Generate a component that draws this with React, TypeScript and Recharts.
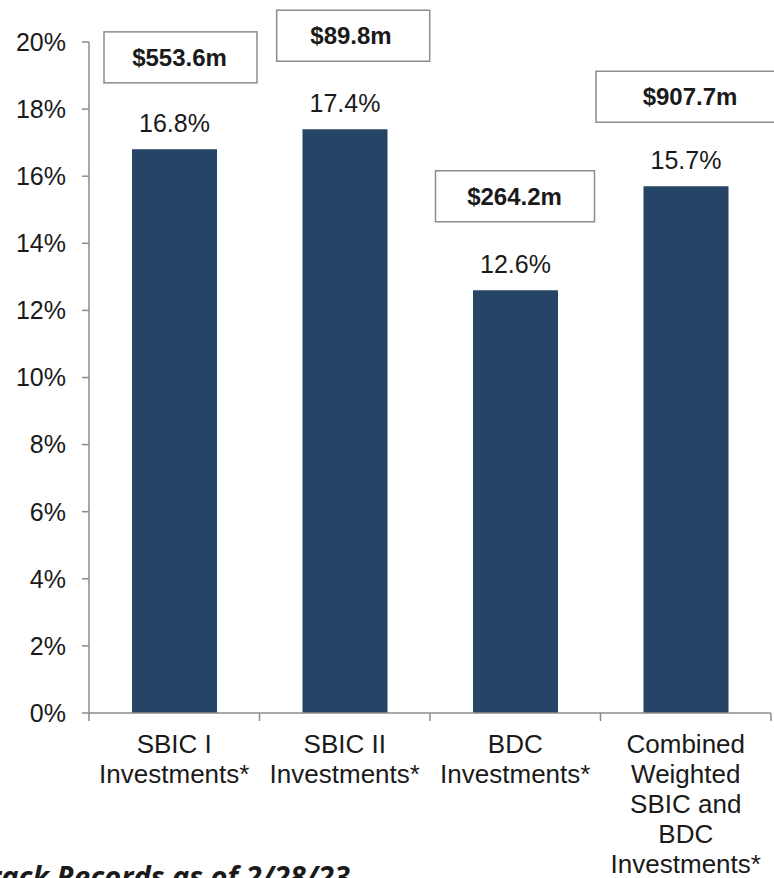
import { BarChart, Bar, XAxis, YAxis, LabelList } from 'recharts'

const categories = [
  'SBIC I\nInvestments*',
  'SBIC II\nInvestments*',
  'BDC\nInvestments*',
  'Combined\nWeighted\nSBIC and\nBDC\nInvestments*',
]
const returns = [16.8, 17.4, 12.6, 15.7]
const amounts = ['$553.6m', '$89.8m', '$264.2m', '$907.7m']
const yTicks = [0, 2, 4, 6, 8, 10, 12, 14, 16, 18, 20]

const data = categories.map((name, i) => ({ name, value: returns[i], amount: amounts[i] }))

const W = 774
const H = 878
const MARGIN = { top: 42, right: 3, bottom: 5, left: 0 }
const Y_WIDTH = 89
const BAND = (W - Y_WIDTH - MARGIN.right) / categories.length

const AXIS = '#8c8c8c'
const BAR = '#264466'
const TEXT = '#1a1a1a'
const FONT = '"Liberation Sans", Arial, sans-serif'

// amount box layout, relative to bar centre / bar top
const BOX_LEFT = [-70.5, -68.3, -80, -90]
const BOX_W = [153, 153, 159, 190]
const TEXT_DX = [5, 6, -1, 4]
const BOX_TOP = [-117.5, -119, -119.5, -115]
const BOX_H = 51

function AmountBox(props: any) {
  const { x, y, width, index, value } = props
  const cx = x + width / 2
  const top = y + BOX_TOP[index]
  return (
    <g>
      <rect
        x={cx + BOX_LEFT[index]}
        y={top}
        width={BOX_W[index]}
        height={BOX_H}
        fill="#fff"
        stroke={AXIS}
        strokeWidth={1.5}
      />
      <text
        x={cx + TEXT_DX[index]}
        y={top + BOX_H / 2 + 8.5}
        textAnchor="middle"
        fontFamily={FONT}
        fontWeight="bold"
        fontSize={24}
        fill={TEXT}
      >
        {value}
      </text>
    </g>
  )
}

function CategoryTick(props: any) {
  const { x, y, payload, index } = props
  const lines = String(payload.value).split('\n')
  return (
    <g transform={`translate(${x},${y})`}>
      <line x1={-BAND / 2} x2={-BAND / 2} y1={0} y2={8} stroke={AXIS} strokeWidth={1.5} />
      {index === categories.length - 1 && (
        <line x1={BAND / 2} x2={BAND / 2} y1={0} y2={8} stroke={AXIS} strokeWidth={1.5} />
      )}
      <text textAnchor="middle" fontFamily={FONT} fontSize={26} fill={TEXT}>
        {lines.map((line, i) => (
          <tspan key={i} x={0} y={40 + i * 30}>
            {line}
          </tspan>
        ))}
      </text>
    </g>
  )
}

export default function App() {
  return (
    <div
      style={{
        position: 'absolute',
        left: 0,
        top: 0,
        width: W,
        height: H,
        overflow: 'hidden',
        background: '#fff',
      }}
    >
      <BarChart width={W} height={H} data={data} margin={MARGIN}>
        <XAxis
          dataKey="name"
          height={160}
          interval={0}
          tickLine={false}
          tickSize={0}
          tickMargin={0}
          axisLine={{ stroke: AXIS, strokeWidth: 1.5 }}
          tick={<CategoryTick />}
        />
        <YAxis
          width={Y_WIDTH}
          domain={[0, 20]}
          ticks={yTicks}
          interval={0}
          tickFormatter={(v: number) => `${v}%`}
          tickSize={7}
          tickMargin={16}
          tickLine={{ stroke: AXIS, strokeWidth: 1.5 }}
          axisLine={{ stroke: AXIS, strokeWidth: 1.5 }}
          tick={{ fill: TEXT, fontSize: 25, fontFamily: FONT }}
        />
        <Bar dataKey="value" fill={BAR} barSize={85} isAnimationActive={false}>
          <LabelList
            dataKey="value"
            position="top"
            offset={17}
            formatter={(v: any) => `${Number(v).toFixed(1)}%`}
            style={{ fill: TEXT, fontSize: 25, fontFamily: FONT }}
          />
          <LabelList dataKey="amount" content={<AmountBox />} />
        </Bar>
      </BarChart>
      <svg
        width={W}
        height={H}
        style={{ position: 'absolute', left: 0, top: 0, pointerEvents: 'none' }}
      >
        <text
          x={350}
          y={887}
          textAnchor="end"
          fontFamily='"Open Sans", sans-serif'
          fontWeight="bold"
          fontStyle="italic"
          fontSize={29}
          fill={TEXT}
        >
          Track Records as of 2/28/23
        </text>
      </svg>
    </div>
  )
}
